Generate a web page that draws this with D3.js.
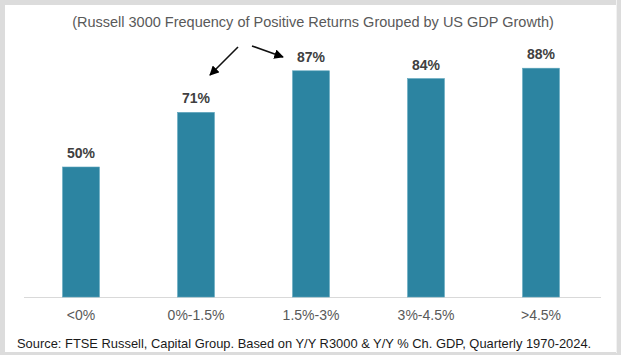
<!DOCTYPE html>
<html><head><meta charset="utf-8">
<script src="https://cdn.jsdelivr.net/npm/d3@7"></script>
<style>
html,body{margin:0;padding:0;background:#d9d9d9;}
svg{display:block;}
</style></head>
<body>
<script>
const categories = ["<0%", "0%-1.5%", "1.5%-3%", "3%-4.5%", ">4.5%"];
const values = [50, 71, 87, 84, 88];
const valueLabels = ["50%", "71%", "87%", "84%", "88%"];
const title = "(Russell 3000 Frequency of Positive Returns Grouped by US GDP Growth)";
const source = "Source: FTSE Russell, Capital Group. Based on Y/Y R3000 & Y/Y % Ch. GDP, Quarterly 1970-2024.";

const W = 621, H = 355;
const svg = d3.select("body").append("svg").attr("width", W).attr("height", H);
const font = "'Liberation Sans', Arial, sans-serif";

svg.append("rect").attr("x", 0).attr("y", 0).attr("width", W).attr("height", H).attr("fill", "#dcdcdc");
svg.append("rect").attr("x", 5).attr("y", 5).attr("width", 611).attr("height", 347).attr("fill", "#ffffff");
svg.append("line").attr("x1", 616.5).attr("x2", 616.5).attr("y1", 0).attr("y2", 353).attr("stroke", "#f2f2f2");

const x = d3.scaleBand().domain(categories).range([23.5, 598.5]).paddingInner(0.68).paddingOuter(0.34);
const y = d3.scaleLinear().domain([0, 100]).range([297, 37]);

svg.append("line").attr("x1", 24).attr("x2", 601).attr("y1", 297.5).attr("y2", 297.5)
  .attr("stroke", "#d9d9d9").attr("stroke-width", 1);

svg.selectAll("rect.bar").data(values).enter().append("rect")
  .attr("class", "bar")
  .attr("x", (d, i) => x(categories[i]))
  .attr("width", x.bandwidth())
  .attr("y", d => y(d))
  .attr("height", d => y(0) - y(d))
  .attr("fill", "#2c84a1")
  .attr("stroke", "#5aa3bb").attr("stroke-width", 0.6);

svg.selectAll("text.val").data(values).enter().append("text")
  .attr("x", (d, i) => x(categories[i]) + x.bandwidth() / 2)
  .attr("y", d => y(d) - 9)
  .attr("text-anchor", "middle")
  .attr("font-family", font).attr("font-weight", "bold").attr("font-size", 14)
  .attr("fill", "#404040")
  .text((d, i) => valueLabels[i]);

const xAxis = d3.axisBottom(x).tickSize(0).tickPadding(0);
const gx = svg.append("g").attr("transform", "translate(0,297)").call(xAxis);
gx.select(".domain").remove();
gx.selectAll("text").attr("font-family", font).attr("font-size", 14).attr("fill", "#595959")
  .attr("dy", 0).attr("y", 23);

svg.append("text").attr("x", 313).attr("y", 27).attr("text-anchor", "middle")
  .attr("font-family", font).attr("font-size", 14.5).attr("fill", "#595959").text(title);

svg.append("text").attr("x", 17).attr("y", 348)
  .attr("font-family", font).attr("font-size", 12.9).attr("fill", "#1a1a1a").text(source);

const defs = svg.append("defs");
defs.append("marker").attr("id", "ah").attr("viewBox", "0 0 10 10").attr("refX", 9).attr("refY", 5)
  .attr("markerWidth", 6).attr("markerHeight", 6).attr("orient", "auto-start-reverse")
  .append("path").attr("d", "M0,0 L10,5 L0,10 z").attr("fill", "#000");

const arrows = [[238, 47, 210, 75], [252, 46, 283, 57]];
svg.selectAll("line.arr").data(arrows).enter().append("line")
  .attr("x1", d => d[0]).attr("y1", d => d[1]).attr("x2", d => d[2]).attr("y2", d => d[3])
  .attr("stroke", "#111").attr("stroke-width", 1.6).attr("marker-end", "url(#ah)");
</script>
</body></html>
